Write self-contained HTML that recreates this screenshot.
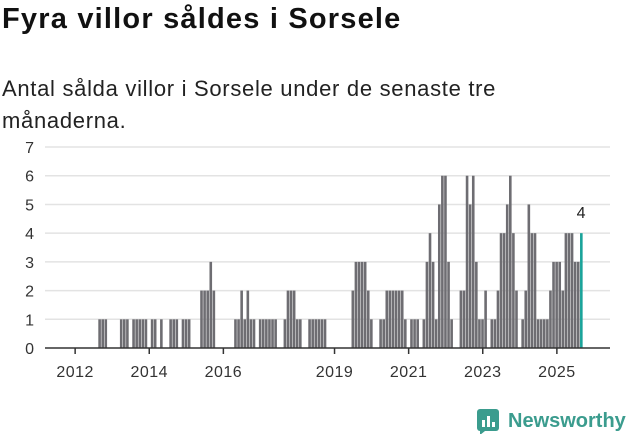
<!DOCTYPE html>
<html><head><meta charset="utf-8">
<style>
body{margin:0;background:#fff;width:631px;height:439px;overflow:hidden;font-family:"Liberation Sans",sans-serif;}
h1{position:absolute;left:2px;top:3px;margin:0;font-size:29px;font-weight:bold;color:#111;letter-spacing:1.2px}
.sub{position:absolute;left:2px;top:73px;margin:0;font-size:22px;line-height:32px;color:#222;width:560px;letter-spacing:0.7px}
svg{position:absolute;left:0;top:0}
.logo{position:absolute;left:476px;top:408px;display:flex;align-items:center;color:#3b9c8e;font-size:20px;font-weight:bold}
</style></head><body>
<h1>Fyra villor såldes i Sorsele</h1>
<p class="sub">Antal sålda villor i Sorsele under de senaste tre<br>månaderna.</p>
<svg id="chart" width="631" height="439"></svg>
<div class="logo"><svg width="26" height="26" style="position:static;margin-right:6px"><rect x="1" y="1" width="22" height="22" rx="3" fill="#3b9c8e"/><rect x="6" y="12" width="3" height="7" fill="#fff"/><rect x="11" y="8" width="3" height="11" fill="#fff"/><rect x="16" y="14" width="3" height="5" fill="#fff"/><path d="M4 23 L4 27 L9 23Z" fill="#3b9c8e"/></svg>Newsworthy</div>
<script>
const values=[0,0,0,0,0,0,0,0,1,1, 1,0,0,0,0,1,1,1,0,1, 1,1,1,1,0,1,1,0,1,0, 0,1,1,1,0,1,1,1,0,0,
0,2,2,2,3,2,0,0,0,0, 0,0,1,1,2,1,2,1,1,0, 1,1,1,1,1,1,0,0,1,2, 2,2,1,1,0,0,1,1,1,1,
1,1,0,0,0,0,0,0,0,0, 2,3,3,3,3,2,1,0,0,1, 1,2,2,2,2,2,2,1,0,1, 1,1,0,1,3,4,3,1,5,6,
6,3,1,0,0,2,2,6,5,6, 3,1,1,2,0,1,1,2,4,4, 5,6,4,2,0,1,2,5,4,4, 1,1,1,1,2,3,3,3,2,4, 4,4,3,3,4];
const startYear=2012;
const yTicks=[0,1,2,3,4,5,6,7];
const xTickYears=[2012,2014,2016,2019,2021,2023,2025];
const svg=document.getElementById('chart');const NS='http://www.w3.org/2000/svg';
const x0=73.6,step=3.088,yb=348,unit=28.71;
const xs=i=>x0+i*step;const ys=v=>yb-v*unit;
function mk(t,a){const e=document.createElementNS(NS,t);for(const k in a)e.setAttribute(k,a[k]);svg.appendChild(e);return e;}
yTicks.forEach(v=>{
 if(v>0){const g=mk('line',{x1:45,x2:610,y1:ys(v),y2:ys(v),stroke:'#e3e3e3','stroke-width':1.5});
 
 }
 const t=mk('text',{x:34,y:ys(v)+6,'text-anchor':'end','font-size':16,fill:'#333','font-family':'Liberation Sans'});t.textContent=v;
 
 
});
values.forEach((v,i)=>{if(!v)return;const last=i===values.length-1;
 const r=mk('rect',{x:xs(i),y:ys(v),width:2.6,height:v*unit,fill:last?'#1aa39a':'#6e6d72'});
 
 
 if(last){const t=mk('text',{x:xs(i)+1,y:ys(v)-15,'text-anchor':'middle','font-size':16,fill:'#222','font-family':'Liberation Sans'});t.textContent=v;
 
 }
});
const ax=mk('line',{x1:45,x2:610,y1:yb,y2:yb,stroke:'#333','stroke-width':1.5});


xTickYears.forEach(y=>{const px=xs((y-startYear)*12+0.5);
 const tk=mk('line',{x1:px,x2:px,y1:yb,y2:yb+6,stroke:'#333','stroke-width':1.5});
 
 
 const t=mk('text',{x:px,y:377,'text-anchor':'middle','font-size':16,fill:'#333','font-family':'Liberation Sans','letter-spacing':'0.5'});t.textContent=y;
 
 
});
</script>
</body></html>
